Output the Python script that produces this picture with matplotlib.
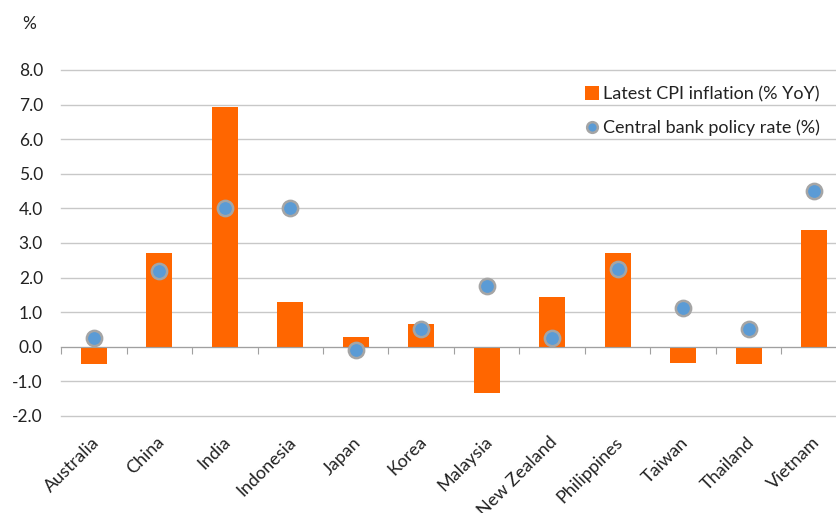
import matplotlib
matplotlib.use("Agg")
import matplotlib.pyplot as plt
import numpy as np

plt.rcParams["font.family"] = ["Lato", "DejaVu Sans"]

countries = ["Australia", "China", "India", "Indonesia", "Japan", "Korea",
             "Malaysia", "New Zealand", "Philippines", "Taiwan", "Thailand", "Vietnam"]
cpi = [-0.5, 2.7, 6.92, 1.3, 0.28, 0.65, -1.33, 1.45, 2.72, -0.46, -0.5, 3.38]
policy_rate = [0.25, 2.2, 4.0, 4.0, -0.1, 0.5, 1.75, 0.25, 2.25, 1.125, 0.5, 4.5]
y_ticks = [-2, -1, 0, 1, 2, 3, 4, 5, 6, 7, 8]

orange = "#FF6600"
blue = "#5B9BD5"
grey_edge = "#A5A5A5"
text_col = "#222222"

fig = plt.figure(figsize=(8.36, 5.13), dpi=100)
ax = fig.add_axes([61 / 836, 1 - 416 / 513, 786 / 836, 346 / 513])

x = np.arange(len(countries))
bars = ax.bar(x, cpi, width=0.4, color=orange, zorder=3)
dots, = ax.plot(x, policy_rate, "o", ms=11, mfc=blue, mec=grey_edge, mew=1.8, zorder=4)

ax.set_xlim(-0.5, len(countries) - 0.5)
ax.set_ylim(-2, 8)
ax.set_yticks(y_ticks)
ax.set_yticklabels([f"{v:.1f}" for v in y_ticks], fontsize=12.5, color=text_col)
ax.tick_params(axis="y", length=0, pad=13)
ax.yaxis.grid(True, color="#C8C8C8", lw=1)
for gl in ax.yaxis.get_gridlines():
    gl.set_clip_on(False)
ax.set_axisbelow(True)
for s in ["left", "right", "top"]:
    ax.spines[s].set_visible(False)

# category axis sits on the zero line, tick marks between categories
ax.spines["bottom"].set_position(("data", 0))
ax.spines["bottom"].set_color("#A0A0A0")
ax.spines["bottom"].set_zorder(3)
ax.set_xticks(np.arange(len(countries)) - 0.5)
ax.set_xticklabels([])
ax.tick_params(axis="x", direction="out", length=5, color="#A0A0A0")

for i, name in enumerate(countries):
    ax.annotate(name, xy=(i, -2), xycoords="data", xytext=(2, -17),
                textcoords="offset points", rotation=45, ha="right", va="center",
                rotation_mode="anchor", fontsize=13, color=text_col,
                annotation_clip=False)

fig.text(29 / 836, 1 - 24 / 513, "%", fontsize=12.5, color=text_col, ha="center", va="center")

ax.legend([bars, dots], ["Latest CPI inflation (% YoY)", "Central bank policy rate (%)"],
          loc="upper right", bbox_to_anchor=(836 / 836, 1 - 70 / 513),
          bbox_transform=fig.transFigure, frameon=False, fontsize=13,
          handletextpad=0.2, labelspacing=0.95, handlelength=0.8, handleheight=0.8,
          labelcolor=text_col, markerscale=0.7)

fig.savefig("out.png", dpi=100)
